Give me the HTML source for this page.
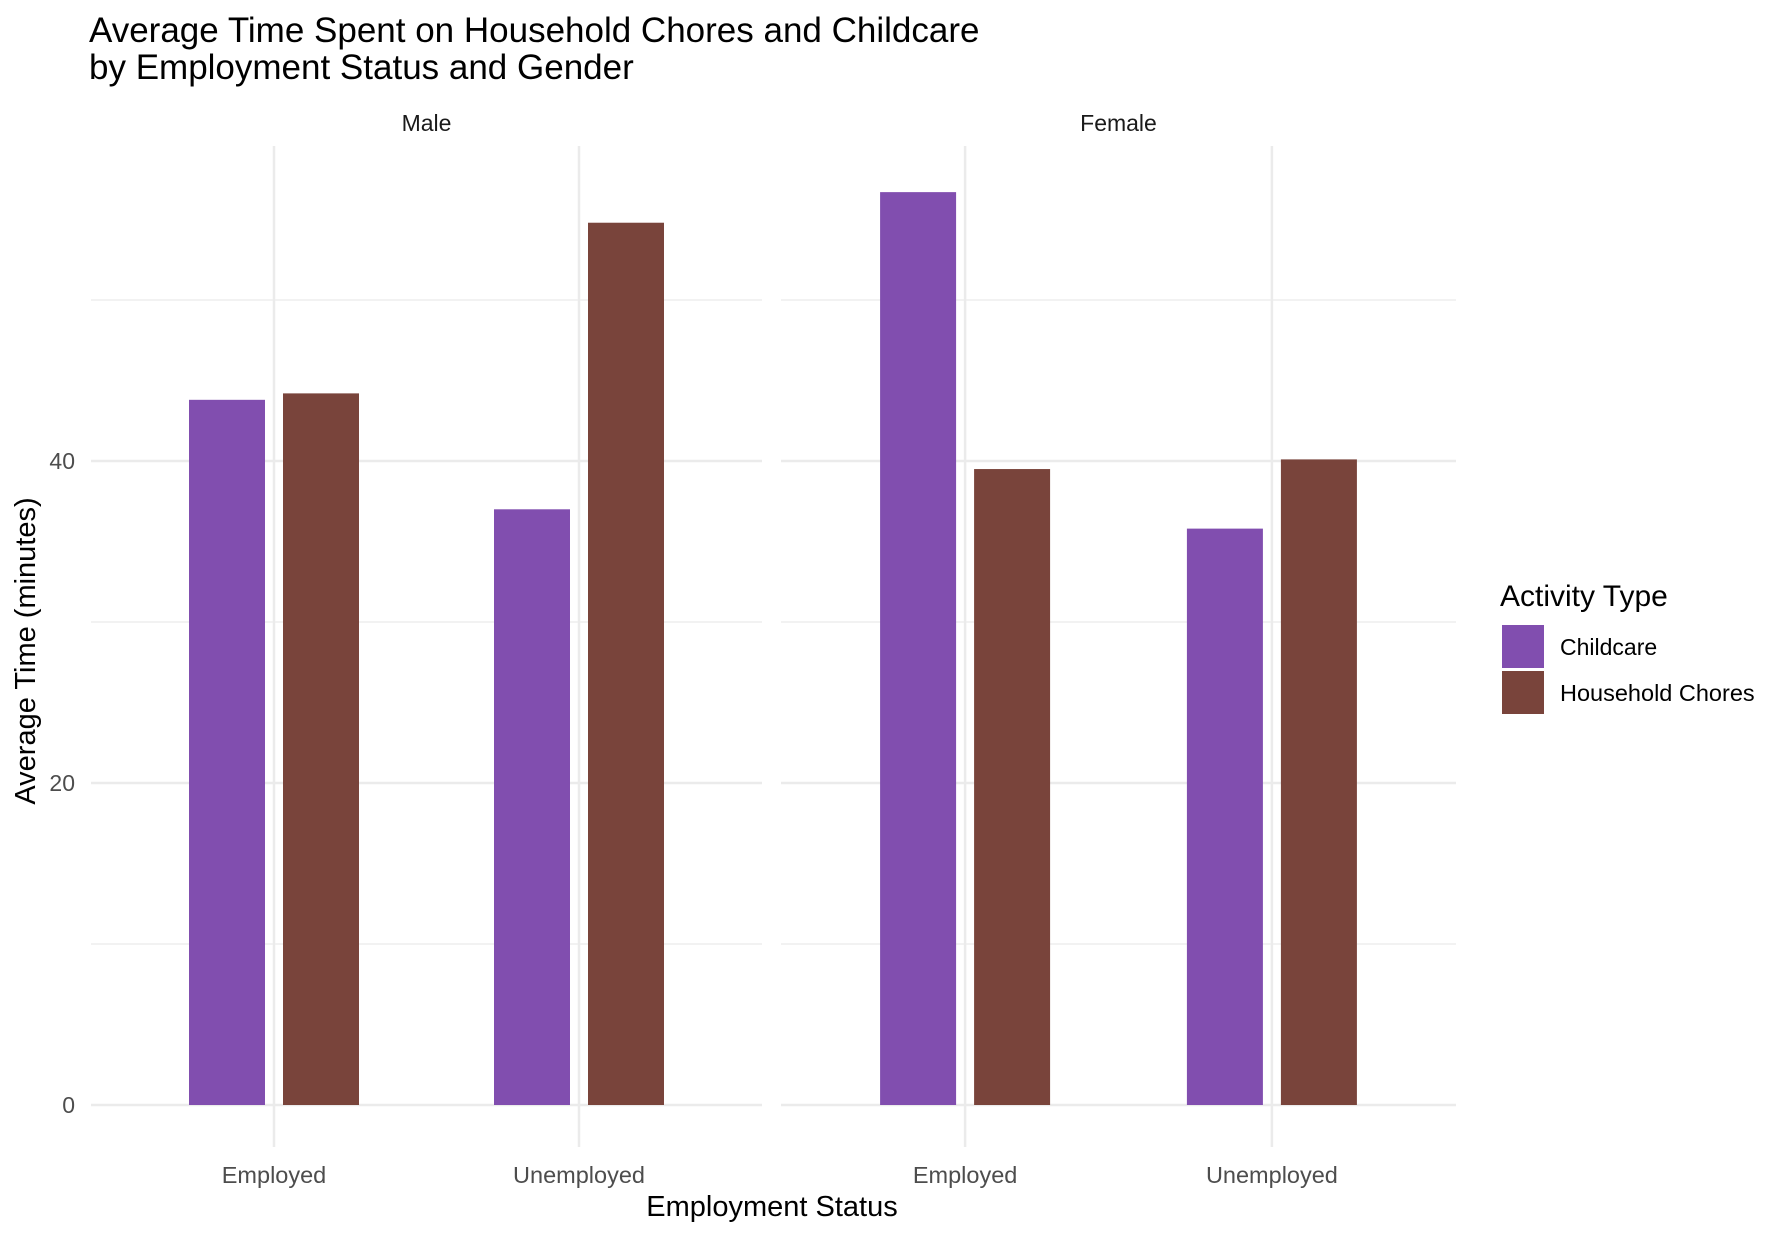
<!DOCTYPE html>
<html><head><meta charset="utf-8"><style>
body{margin:0;background:#fff;}
svg text{font-family:"Liberation Sans",sans-serif;}
</style></head><body>
<svg id="chart" width="1784" height="1236" xmlns="http://www.w3.org/2000/svg">
<text x="89" y="42" font-size="35" fill="#000">Average Time Spent on Household Chores and Childcare</text>
<text x="89" y="79" font-size="35" fill="#000">by Employment Status and Gender</text>
<g id="plot"></g>
<text transform="translate(35,651) rotate(-90)" text-anchor="middle" font-size="29" fill="#000">Average Time (minutes)</text>
<text x="772" y="1216" text-anchor="middle" font-size="29" fill="#000">Employment Status</text>
<g>
<text x="1500" y="606" font-size="30" fill="#000">Activity Type</text>
<rect x="1502" y="625" width="42" height="43" fill="#814EAF"/>
<text x="1560" y="655" font-size="23" fill="#000">Childcare</text>
<rect x="1502" y="671" width="42" height="43" fill="#79443B"/>
<text x="1560" y="701" font-size="23.5" fill="#000">Household Chores</text>
</g>
</svg>
<script>
const panels = ["Male", "Female"];
const categories = ["Employed", "Unemployed"];
const childcare = [[43.8, 37.0], [56.7, 35.8]];
const chores = [[44.2, 54.8], [39.5, 40.1]];
const yTicks = [0, 20, 40];
const yMinor = [10, 30, 50];

const NS = "http://www.w3.org/2000/svg";
const plotG = document.getElementById("plot");
const Y0 = 1105, PER_UNIT = 16.1, PLOT_TOP = 146, PLOT_BOTTOM = 1147;
const panelX = [[91, 762], [781, 1456]];
function yScale(v){ return Y0 - v * PER_UNIT; }
function xScale(p, i){ const a = panelX[p][0], b = panelX[p][1]; const n = categories.length; return a + (b-a)*(0.6+i)/(n-1+1.2); }
function mk(tag, attrs){ const e = document.createElementNS(NS, tag); for (const k in attrs) e.setAttribute(k, attrs[k]); plotG.appendChild(e); return e; }

panels.forEach((pn, p) => {
  const a = panelX[p][0], b = panelX[p][1];
  yMinor.forEach(v => {
    const l = mk("line", {x1:a, x2:b, y1:yScale(v), y2:yScale(v), stroke:"#ebebeb", "stroke-width":1.2});
    
    
  });
  yTicks.forEach(v => {
    const l = mk("line", {x1:a, x2:b, y1:yScale(v), y2:yScale(v), stroke:"#ebebeb", "stroke-width":2.5});
    
    
  });
  categories.forEach((c, i) => {
    const cx = xScale(p, i);
    const l = mk("line", {x1:cx, x2:cx, y1:PLOT_TOP, y2:PLOT_BOTTOM, stroke:"#ebebeb", "stroke-width":2.5});
    
    
    const t = mk("text", {x:cx, y:1183, "text-anchor":"middle", "font-size":23.5, fill:"#4d4d4d"});
    t.textContent = c;
    
    
  });
  const st = mk("text", {x:(a+b)/2, y:131, "text-anchor":"middle", "font-size":23, fill:"#1a1a1a"});
  st.textContent = pn;
  
  
});

yTicks.forEach(v => {
  const t = mk("text", {x:75, y:yScale(v)+8, "text-anchor":"end", "font-size":23, fill:"#4d4d4d"});
  t.textContent = v;
  
  
});

const BW = 76, OFF = 47;
panels.forEach((pn, p) => {
  categories.forEach((c, i) => {
    const cx = xScale(p, i);
    const r1 = mk("rect", {x:cx-OFF-BW/2, y:yScale(childcare[p][i]), width:BW, height:Y0-yScale(childcare[p][i]), fill:"#814EAF"});
    
    
    const r2 = mk("rect", {x:cx+OFF-BW/2, y:yScale(chores[p][i]), width:BW, height:Y0-yScale(chores[p][i]), fill:"#79443B"});
    
    
  });
});
</script>
</body></html>
